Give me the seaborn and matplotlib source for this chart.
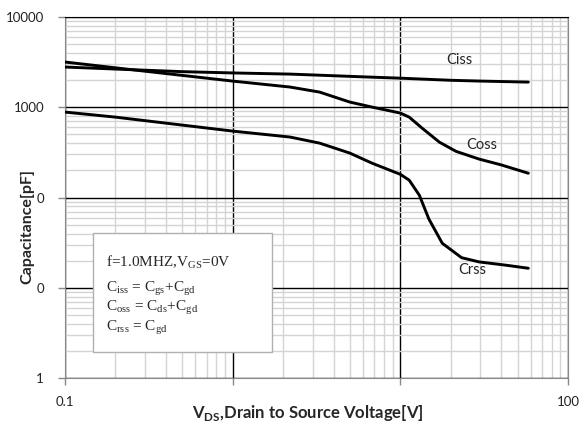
import matplotlib
matplotlib.use("Agg")
import matplotlib.pyplot as plt
import seaborn as sns
import pandas as pd
from matplotlib.patches import Rectangle

# values (V, pF)
ciss_v = [0.1, 0.2, 0.5, 1, 2.2, 5.7, 10, 20, 30, 58]
ciss_c = [2790, 2650, 2480, 2400, 2330, 2180, 2100, 1990, 1950, 1900]

coss_v = [0.1, 0.3, 1, 2.2, 3.3, 5.0, 6.8, 10, 11.3, 13.5, 17.1, 21.5, 29.5, 40, 58]
coss_c = [3170, 2510, 1950, 1675, 1473, 1142, 1004, 863, 778, 587, 411, 325, 267, 230, 186]

crss_v = [0.1, 0.2, 1, 2.2, 3.3, 5.0, 6.8, 10, 11.3, 13.0, 14.8, 17.8, 23.2, 29.5, 43, 58]
crss_c = [885, 778, 545, 468, 401, 311, 240, 181, 156, 106, 58, 31.2, 21.6, 19.4, 17.8, 16.5]

y_ticks = [1, 10, 100, 1000, 10000]
y_ticklabels = ["1", "0", "0", "1000", "10000"]
x_ticks = [0.1, 1, 10, 100]
x_ticklabels = ["0.1", "", "", "100"]

curve_labels = [("Ciss", 22.4, 3340), ("Coss", 30.8, 381), ("Crss", 26.9, 15.7)]

sns.set_style("white")
plt.rcParams["font.family"] = ["Lato", "DejaVu Sans"]

df = pd.concat([
    pd.DataFrame({"v": ciss_v, "c": ciss_c, "s": "Ciss"}),
    pd.DataFrame({"v": coss_v, "c": coss_c, "s": "Coss"}),
    pd.DataFrame({"v": crss_v, "c": crss_c, "s": "Crss"}),
])

fig = plt.figure(figsize=(5.79, 4.24), dpi=100)
ax = fig.add_axes([0.112, 0.108, 0.869, 0.852])

for name, grp in df.groupby("s"):
    sns.lineplot(data=grp, x="v", y="c", ax=ax, color="black", linewidth=2.1,
                 estimator=None, sort=False, legend=False, zorder=5)

ax.set_xscale("log")
ax.set_yscale("log")
ax.set_xlim(0.1, 100)
ax.set_ylim(1, 10000)

ax.grid(which="minor", color="#d4d4d4", linewidth=1.0)
ax.grid(which="major", color="black", linewidth=1.0)
ax.set_axisbelow(True)

ax.set_xticks(x_ticks)
ax.set_xticklabels(x_ticklabels)
ax.set_yticks(y_ticks)
ax.set_yticklabels(y_ticklabels)
ax.tick_params(which="major", direction="out", length=5, width=1, color="#888888",
               labelsize=9.5, labelcolor="#222222", bottom=True, left=True)
ax.tick_params(axis="x", pad=8)
ax.tick_params(axis="y", pad=10)
ax.tick_params(which="minor", length=0)

for side in ["left", "bottom", "right"]:
    ax.spines[side].set_color("#888888")
ax.spines["top"].set_color("black")
ax.set_xlabel("")
ax.set_ylabel("")

fig.text(308 / 579, 1 - 413 / 424, "V$_{\\mathregular{DS}}$,Drain to Source Voltage[V]",
         fontsize=12, fontweight="bold", ha="center", va="center")
fig.text(27 / 579, 1 - 227 / 424, "Capacitance[pF]", fontsize=11.5, fontweight="bold",
         rotation=90, ha="center", va="center")

for txt, xv, yv in curve_labels:
    ax.text(xv, yv, txt, fontsize=10.5, ha="center", va="center", zorder=6)

# condition box
ax.add_patch(Rectangle((0.056, 0.072), 0.356, 0.33, transform=ax.transAxes,
                       facecolor="white", edgecolor="#b0b0b0", linewidth=1, zorder=4))
box_lines = [
    "f=1.0MHZ,V$_{\\mathregular{GS}}$=0V",
    "C$_{\\mathregular{iss}}$ = C$_{\\mathregular{gs}}$+C$_{\\mathregular{gd}}$",
    "C$_{\\mathregular{oss}}$ = C$_{\\mathregular{ds}}$+C$_{\\mathregular{gd}}$",
    "C$_{\\mathregular{rss}}$ = C$_{\\mathregular{gd}}$",
]
for line, yf in zip(box_lines, [0.321, 0.249, 0.194, 0.139]):
    ax.text(0.082, yf, line, transform=ax.transAxes, fontsize=11,
            family="Liberation Serif", ha="left", va="center", zorder=6)

fig.savefig("out.png", dpi=100)
